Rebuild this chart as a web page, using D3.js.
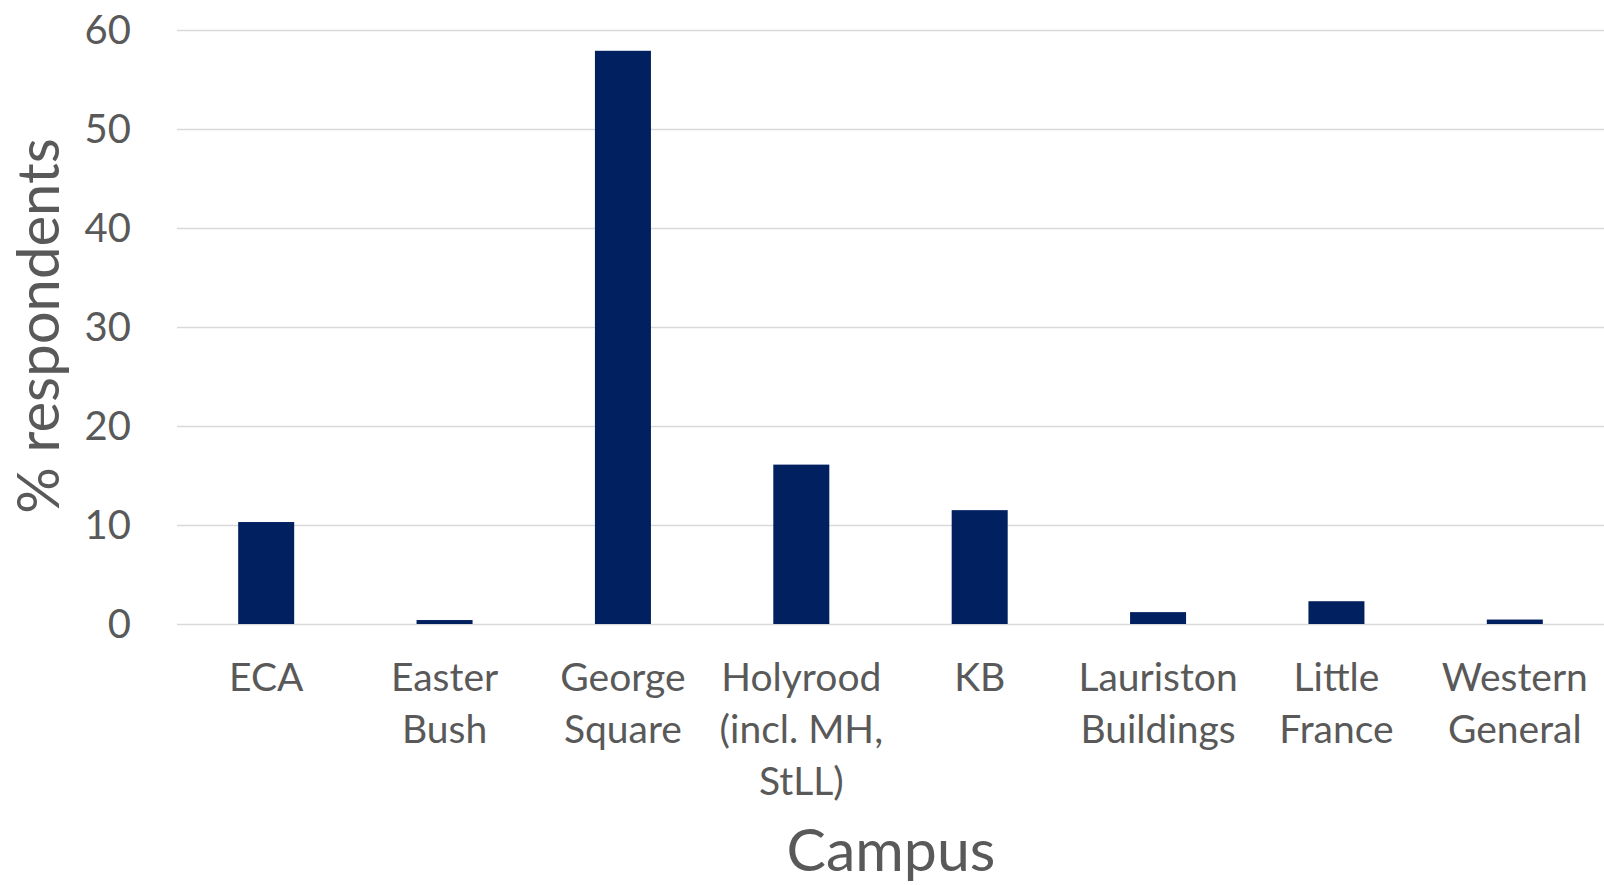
<!DOCTYPE html>
<html>
<head>
<meta charset="utf-8">
<script src="https://d3js.org/d3.v7.min.js"></script>
<style>
html, body { margin: 0; padding: 0; background: #fff; overflow: hidden; }
</style>
</head>
<body>
<div id="chart"></div>
<script>
// campus share of respondents (%)
var categories = ["ECA", "Easter Bush", "George Square", "Holyrood (incl. MH, StLL)", "KB",
                  "Lauriston Buildings", "Little France", "Western General"];
var labelLines = [["ECA"], ["Easter", "Bush"], ["George", "Square"], ["Holyrood", "(incl. MH,", "StLL)"],
                  ["KB"], ["Lauriston", "Buildings"], ["Little", "France"], ["Western", "General"]];
var values = [10.3, 0.4, 57.9, 16.1, 11.5, 1.2, 2.3, 0.45];
var yTicks = [0, 10, 20, 30, 40, 50, 60];
var yTitle = "% respondents";
var xTitle = "Campus";

var W = 1604, H = 885;
var margin = {top: 30, right: 0, bottom: 261, left: 177};
var width = W - margin.left - margin.right,
    height = H - margin.top - margin.bottom;

var font = "Lato, 'Open Sans', sans-serif";
var textColor = "#595959";

var svg = d3.select("#chart").append("svg")
    .attr("width", W)
    .attr("height", H);

var chart = svg.append("g")
    .attr("transform", "translate(" + margin.left + "," + margin.top + ")");

var x = d3.scaleBand()
    .domain(categories)
    .range([0, width])
    .paddingInner(0.686)
    .paddingOuter(0.343);

var y = d3.scaleLinear()
    .domain([0, 60])
    .range([height, 0]);

// grid lines
chart.selectAll(".grid")
    .data(yTicks)
    .enter().append("line")
    .attr("class", "grid")
    .attr("x1", 0)
    .attr("x2", width)
    .attr("y1", function(d){ return Math.round(y(d)) + 0.5; })
    .attr("y2", function(d){ return Math.round(y(d)) + 0.5; })
    .attr("stroke", "#d9d9d9")
    .attr("stroke-width", 1.6);

// y tick labels
chart.selectAll(".yLabel")
    .data(yTicks)
    .enter().append("text")
    .attr("class", "yLabel")
    .attr("x", -46)
    .attr("y", function(d){ return y(d); })
    .attr("dy", "0.36em")
    .attr("text-anchor", "end")
    .style("font-family", font)
    .style("font-size", "40px")
    .style("fill", textColor)
    .text(function(d){ return d; });

// bars
chart.selectAll(".bar")
    .data(values)
    .enter().append("rect")
    .attr("class", "bar")
    .attr("x", function(d, i){ return x(categories[i]); })
    .attr("width", x.bandwidth())
    .attr("y", function(d){ return y(d); })
    .attr("height", function(d){ return y(0) - y(d); })
    .attr("fill", "#002060");

// category labels
var xLabel = chart.selectAll(".xLabel")
    .data(labelLines)
    .enter().append("text")
    .attr("class", "xLabel")
    .attr("x", function(d, i){ return x(categories[i]) + x.bandwidth() / 2; })
    .attr("y", height + 67)
    .attr("text-anchor", "middle")
    .style("font-family", font)
    .style("font-size", "39px")
    .style("fill", textColor);

xLabel.selectAll("tspan")
    .data(function(d){ return d; })
    .enter().append("tspan")
    .attr("x", function(){ return d3.select(this.parentNode).attr("x"); })
    .attr("dy", function(d, i){ return i == 0 ? 0 : 52; })
    .text(function(d){ return d; });

// axis titles
svg.append("text")
    .attr("transform", "translate(59," + 326 + ") rotate(-90)")
    .attr("text-anchor", "middle")
    .style("font-family", font)
    .style("font-size", "58px")
    .style("fill", textColor)
    .text(yTitle);

svg.append("text")
    .attr("x", 891)
    .attr("y", 871)
    .attr("text-anchor", "middle")
    .style("font-family", font)
    .style("font-size", "59px")
    .style("fill", textColor)
    .text(xTitle);
</script>
</body>
</html>
